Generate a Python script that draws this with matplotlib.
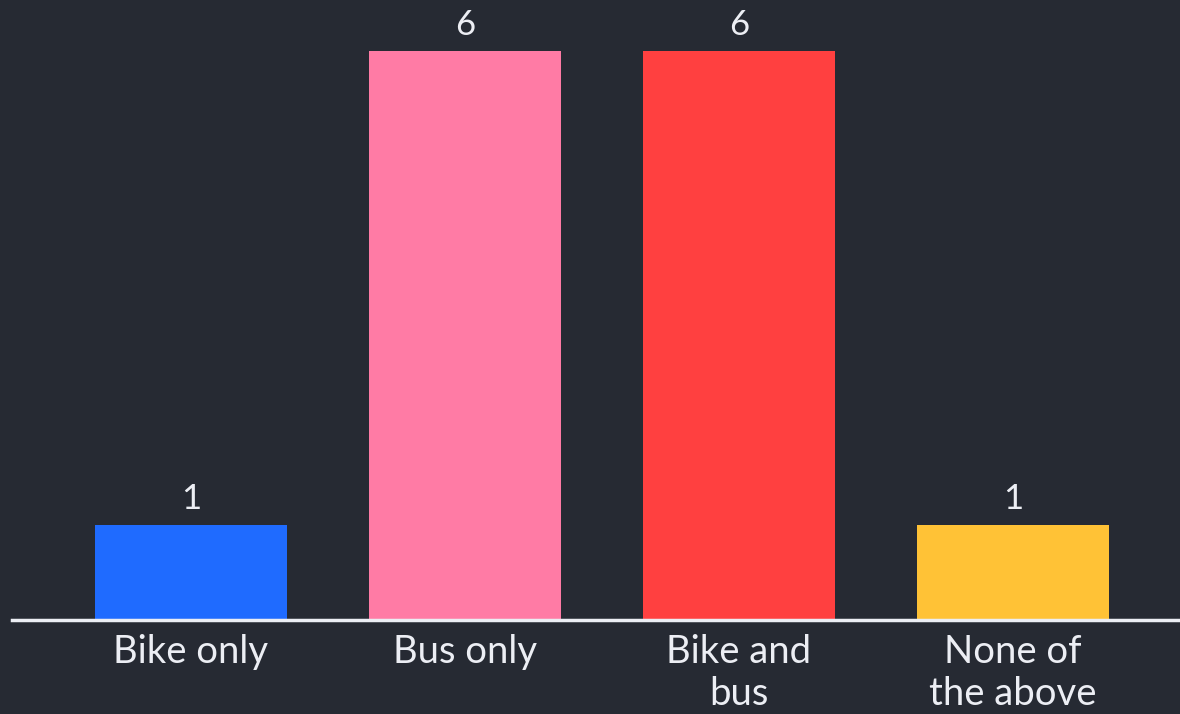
import matplotlib
matplotlib.use("Agg")
import matplotlib.pyplot as plt

categories = ["Bike only", "Bus only", "Bike and\nbus", "None of\nthe above"]
values = [1, 6, 6, 1]
colors = ["#1f6bff", "#ff7ba5", "#ff4040", "#ffc236"]

bg = "#262a33"
fg = "#eceef4"

plt.rcParams['font.family'] = ['Lato', 'DejaVu Sans']

fig = plt.figure(figsize=(11.8, 7.14), dpi=100, facecolor=bg)
ax = fig.add_axes([12/1180, (714-620)/714, 1168/1180, 620/714])
ax.set_facecolor(bg)

x = list(range(len(categories)))
bars = ax.bar(x, values, width=0.70, color=colors, zorder=2)

ax.set_xlim(-0.653, 3.609)
ax.set_ylim(0, 6.54)

for xi, v in zip(x, values):
    ax.annotate(str(v), (xi, v), xytext=(0, 7), textcoords="offset points",
                ha="center", va="bottom", color=fg, fontsize=25)

ax.axhline(0, color=fg, lw=2.5, zorder=3, clip_on=False)

for s in ax.spines.values():
    s.set_visible(False)
ax.set_yticks([])
ax.set_xticks(x)
ax.set_xticklabels(categories, color=fg, fontsize=27.5, linespacing=1.2)
ax.tick_params(axis="x", length=0, pad=10)

fig.savefig("out.png", dpi=100, facecolor=bg)
